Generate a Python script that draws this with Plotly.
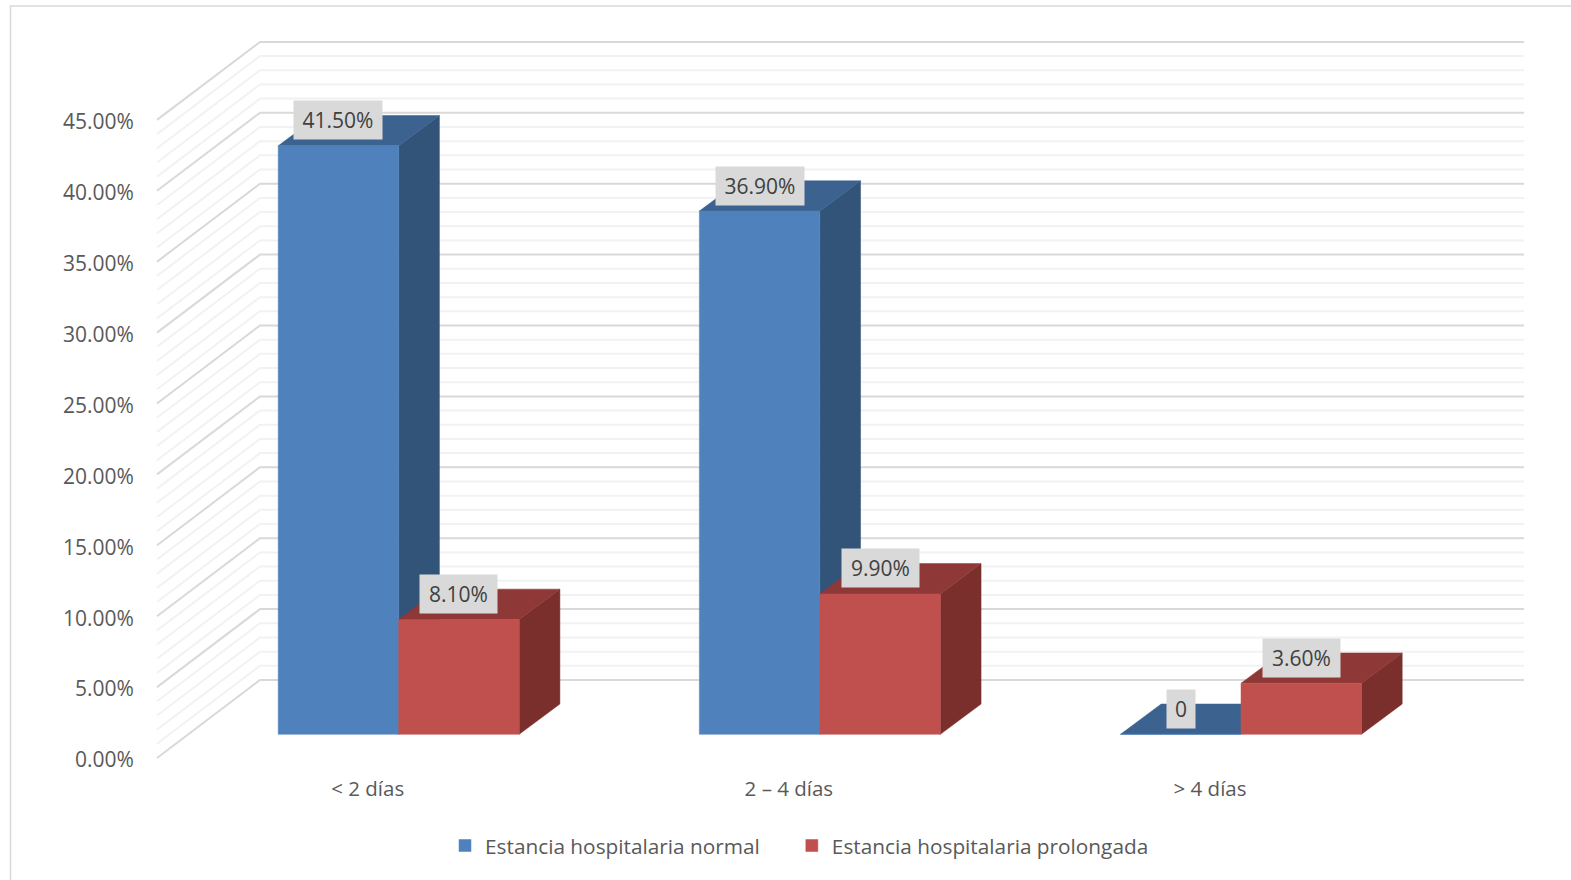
import plotly.graph_objects as go

# Hospital stay data, in percent
categories = ["< 2 días", "2 – 4 días", "> 4 días"]
normal_stay = [41.5, 36.9, 0]
long_stay = [8.1, 9.9, 3.6]
series_names = ["Estancia hospitalaria normal", "Estancia hospitalaria prolongada"]
axis_ticks = [0, 5, 10, 15, 20, 25, 30, 35, 40, 45]
grid_levels = list(range(0, 46))

WIDTH, HEIGHT = 1571, 880
PX_PER_GROUP = 421.15
PX_PER_PCT = 14.18
GROUP_ZERO_PX = 398.7       # horizontal pixel of the first group's centre
ZERO_PX = 758.0             # vertical pixel of 0 % on the front edge of the wall

X_RANGE = [-GROUP_ZERO_PX / PX_PER_GROUP, (WIDTH - GROUP_ZERO_PX) / PX_PER_GROUP]
Y_RANGE = [(ZERO_PX - HEIGHT) / PX_PER_PCT, ZERO_PX / PX_PER_PCT]

# Oblique projection used for the pseudo-3D look, in axis units
BAR_WIDTH = 120.5 / PX_PER_GROUP
FLOOR = 23.7 / PX_PER_PCT
BAR_DX = 40.7 / PX_PER_GROUP
BAR_DY = 30.3 / PX_PER_PCT
WALL_DX = 103.0 / PX_PER_GROUP
WALL_DY = 78.0 / PX_PER_PCT
WALL_LEFT = (157 - GROUP_ZERO_PX) / PX_PER_GROUP
WALL_RIGHT = (1524 - 103 - GROUP_ZERO_PX) / PX_PER_GROUP
TICK_SHIFT = -31.0 / PX_PER_GROUP

TEXT = "#595959"
LABEL_TEXT = "#404040"
LABEL_BG = "#d9d9d9"
FONT = "Open Sans"
LEGEND_PAD = "\u00a0" * 5   # widens the first legend entry, sets the gap before the second

fig = go.Figure()


def grid_trace(levels, color):
    xs, ys = [], []
    for v in levels:
        xs += [WALL_LEFT, WALL_LEFT + WALL_DX, WALL_RIGHT + WALL_DX, None]
        ys += [v, v + WALL_DY, v + WALL_DY, None]
    return go.Scatter(x=xs, y=ys, mode="lines", line=dict(color=color, width=2),
                      showlegend=False, hoverinfo="skip", zorder=0)


fig.add_trace(grid_trace([v for v in grid_levels if v not in axis_ticks], "#f2f2f2"))
fig.add_trace(grid_trace(axis_ticks, "#d9d9d9"))


def face_trace(xs, ys, color, order):
    return go.Scatter(x=xs, y=ys, mode="lines", fill="toself", fillcolor=color,
                      line=dict(color=color, width=0.5), showlegend=False,
                      hoverinfo="skip", zorder=order)


def add_series(values, offset, name, front, top, side, base_order):
    top_x, top_y, side_x, side_y, centers = [], [], [], [], []
    for i, v in enumerate(values):
        left = i + offset
        right = left + BAR_WIDTH
        level = FLOOR + v
        centers.append(left + BAR_WIDTH / 2)
        top_x += [left, right, right + BAR_DX, left + BAR_DX, left, None]
        top_y += [level, level, level + BAR_DY, level + BAR_DY, level, None]
        if v > 0:
            side_x += [right, right + BAR_DX, right + BAR_DX, right, right, None]
            side_y += [FLOOR, FLOOR + BAR_DY, level + BAR_DY, level, FLOOR, None]
    fig.add_trace(face_trace(side_x, side_y, side, base_order))
    fig.add_trace(face_trace(top_x, top_y, top, base_order + 1))
    fig.add_trace(go.Bar(x=centers, y=values, base=FLOOR, width=BAR_WIDTH, name=name,
                         marker=dict(color=front, line=dict(color=front, width=0.5)),
                         hoverinfo="skip", zorder=base_order + 2))
    for c, v in zip(centers, values):
        label = "0" if v == 0 else f"{v:.2f}%"
        fig.add_annotation(x=c, y=FLOOR + v, xref="x", yref="y", text=label,
                           showarrow=False, yshift=25.5,
                           width=26 if v == 0 else (86 if v >= 10 else 75), height=36,
                           bgcolor=LABEL_BG, font=dict(family=FONT, size=21, color=LABEL_TEXT))


add_series(normal_stay, -BAR_WIDTH, series_names[0] + LEGEND_PAD, "#4f81bd", "#3c6390", "#325479", 1)
add_series(long_stay, 0, series_names[1], "#c0504d", "#8e3937", "#7b2f2d", 4)

fig.update_layout(
    width=WIDTH, height=HEIGHT,
    margin=dict(l=0, r=0, t=0, b=0),
    paper_bgcolor="white", plot_bgcolor="white",
    barmode="overlay",
    font=dict(family=FONT, color=TEXT),
    xaxis=dict(range=X_RANGE, domain=[0, 1], anchor="free", position=(HEIGHT - ZERO_PX) / HEIGHT,
               tickmode="array", tickvals=[i + TICK_SHIFT for i in range(len(categories))],
               ticktext=categories, ticks="outside", ticklen=12, tickcolor="rgba(0,0,0,0)",
               tickfont=dict(family=FONT, size=20.5, color=TEXT),
               showgrid=False, zeroline=False, showline=False),
    yaxis=dict(range=Y_RANGE, domain=[0, 1], anchor="free", position=157 / WIDTH,
               tickmode="array", tickvals=axis_ticks,
               ticktext=[f"{v:.2f}%" for v in axis_ticks],
               ticks="outside", ticklen=19, tickcolor="rgba(0,0,0,0)",
               ticklabelshift=2,
               tickfont=dict(family=FONT, size=21, color=TEXT),
               showgrid=False, zeroline=False, showline=False),
    legend=dict(orientation="h", x=445 / WIDTH, xanchor="left", y=(HEIGHT - 846) / HEIGHT, yanchor="middle",
                traceorder="normal",
                font=dict(family=FONT, size=20.8, color=TEXT), bgcolor="rgba(0,0,0,0)"),
    shapes=[dict(type="rect", xref="paper", yref="paper", x0=10.5 / WIDTH, x1=1.02,
                 y0=-0.02, y1=(HEIGHT - 6) / HEIGHT, line=dict(color="#d9d9d9", width=1.5), layer="below")],
)

fig.write_html("out.html")
